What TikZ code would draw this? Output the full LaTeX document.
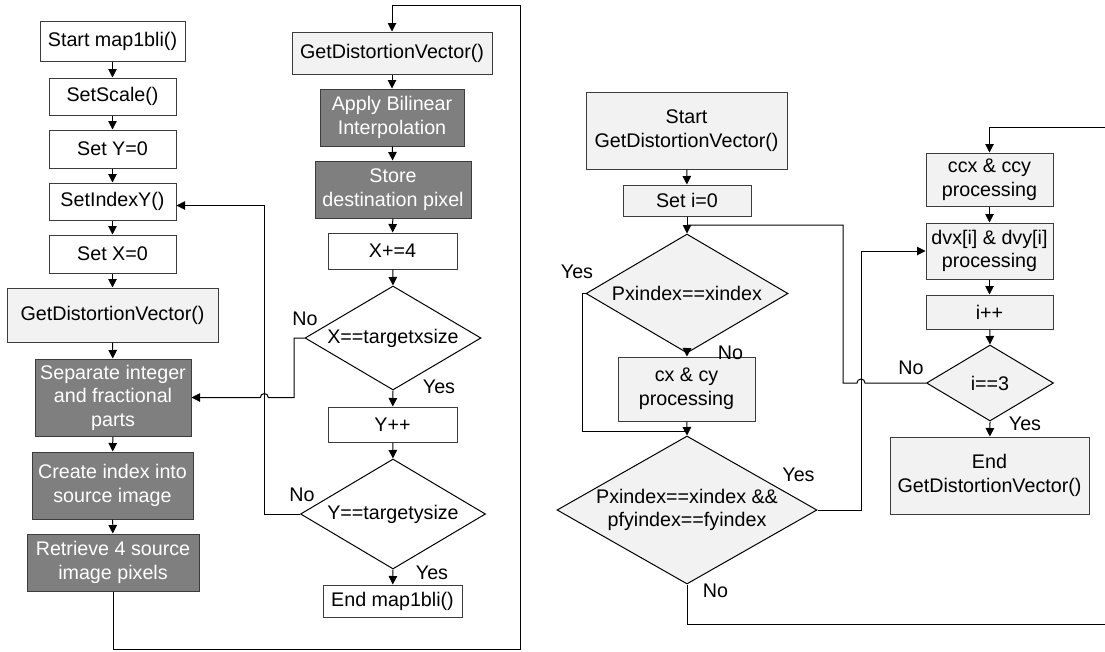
\documentclass[tikz,border=0pt]{standalone}
\usepackage{fontspec}
\setmainfont{Liberation Sans}
\usetikzlibrary{shapes.geometric,arrows.meta}
\definecolor{edgegray}{HTML}{3C3C3C}
\definecolor{lightfill}{HTML}{F2F2F2}
\definecolor{darkfill}{HTML}{7F7F7F}
\tikzset{
  base/.style={font=\fontsize{19.7}{23.6}\selectfont, inner sep=0pt, align=center},
  sz/.style 2 args={minimum width=#1pt, minimum height=#2pt},
  plainbox/.style={base, rectangle, draw=edgegray, line width=1pt, fill=white},
  lightbox/.style={base, rectangle, draw=edgegray, line width=1pt, fill=lightfill},
  darkbox/.style={base, rectangle, draw=edgegray, line width=1pt, fill=darkfill, text=white},
  decision/.style={base, diamond, draw=black, line width=1pt, aspect=1.7},
  wire/.style={draw=black, line width=1pt},
  flow/.style={wire, -{Triangle[length=8.5pt,width=8.5pt]}},
  tag/.style={base},
}
\begin{document}
\begin{tikzpicture}[x=1pt, y=-1pt]
\useasboundingbox (0,0) rectangle (1105,651);

% ---- map1bli(): left column
\node[plainbox, sz={145}{40}] (start) at (112.5,41) {Start map1bli()};
\node[plainbox, sz={127}{37}] (scale) at (112.5,96.5) {SetScale()};
\node[plainbox, sz={127}{38}] (sety) at (112.5,149) {Set Y=0};
\node[plainbox, sz={127}{37}] (idxy) at (112.5,201.5) {SetIndexY()};
\node[plainbox, sz={127}{38}] (setx) at (112.5,254) {Set X=0};
\node[lightbox, sz={211}{54}] (gdva) at (112.5,315) {GetDistortionVector()};
\node[darkbox, sz={156}{77}] (sep) at (113,397.5) {Separate integer\\and fractional\\parts};
\node[darkbox, sz={161}{67}] (cidx) at (112.5,485.5) {Create index into\\source image};
\node[darkbox, sz={172}{57}] (retr) at (113,562.5) {Retrieve 4 source\\image pixels};

% ---- map1bli(): middle column
\node[lightbox, sz={200}{42}] (gdvb) at (392,53) {GetDistortionVector()};
\node[darkbox, sz={144}{57}] (bil) at (392,117.5) {Apply Bilinear\\Interpolation};
\node[darkbox, sz={156}{57}] (store) at (393,189.5) {Store\\destination pixel};
\node[plainbox, sz={129}{36}] (xinc) at (392.5,251) {X+=4};
\node[decision, fill=white, sz={176}{104}] (dx) at (393,338) {X==targetxsize};
\node[plainbox, sz={129}{35}] (yinc) at (392.5,424.5) {Y++};
\node[decision, fill=white, sz={185}{110}] (dy) at (393,514) {Y==targetysize};
\node[plainbox, sz={139}{32}] (endm) at (392.5,601) {End map1bli()};

\node[tag] at (305,319) {No};
\node[tag] at (439,387) {Yes};
\node[tag] at (302,494.5) {No};
\node[tag] at (432,573) {Yes};

% ---- GetDistortionVector(): left column
\node[lightbox, sz={201}{77}] (sgdv) at (686.5,130.5) {Start\\GetDistortionVector()};
\node[lightbox, sz={128}{31}] (seti) at (687,200.5) {Set i=0};
\node[decision, fill=lightfill, sz={202}{119}] (dp) at (687,293.5) {Pxindex==xindex};
\node[lightbox, sz={137}{64}] (cxcy) at (686.5,389) {cx \& cy\\processing};
\node[decision, fill=lightfill, aspect=1.757, sz={260}{148}] (dpp) at (687,510) {Pxindex==xindex \&\&\\pfyindex==fyindex};

\node[tag] at (577,271.5) {Yes};
\node[tag] at (730.5,353) {No};
\node[tag] at (798.5,475) {Yes};
\node[tag] at (715.5,590.5) {No};

% ---- GetDistortionVector(): right column
\node[lightbox, sz={127}{53}] (ccx) at (989.5,179.5) {ccx \& ccy\\processing};
\node[lightbox, sz={127}{56}] (dvx) at (989.5,251) {dvx[i] \& dvy[i]\\processing};
\node[lightbox, sz={127}{34}] (iinc) at (989.5,312) {i++};
\node[decision, fill=lightfill, sz={127}{76}] (di) at (990,383) {i==3};
\node[lightbox, sz={199}{77}] (endg) at (989.5,475.5) {End\\GetDistortionVector()};

\node[tag] at (911,367.5) {No};
\node[tag] at (1025,424) {Yes};

% ---- bend and edge points of the loop wires
\coordinate (loopbr) at (520.5,649.5);
\coordinate (looptr) at (520.5,5.5);
\coordinate (nxbend) at (294,397.5);
\coordinate (nxjump) at (268.3,397.5);
\coordinate (nybend) at (264.3,205.5);
\coordinate (ypbend) at (582,431);
\coordinate (ypjoin) at (687,431);
\coordinate (ydbend) at (861,251);
\coordinate (ndout) at (1105,624);
\coordinate (ndin) at (1105,127.5);
\coordinate (nijump) at (865,383);
\coordinate (nibend) at (843,225);
\coordinate (nijoin) at (687,225);

% ---- map1bli() connectors
\draw[flow] (start) -- (scale);
\draw[flow] (scale) -- (sety);
\draw[flow] (sety) -- (idxy);
\draw[flow] (idxy) -- (setx);
\draw[flow] (setx) -- (gdva);
\draw[flow] (gdva) -- (sep);
\draw[flow] (sep) -- (cidx);
\draw[flow] (cidx) -- (retr);
\draw[flow] (retr.south) |- (loopbr) -- (looptr) -| (gdvb.north);
\draw[flow] (gdvb) -- (bil);
\draw[flow] (bil) -- (store);
\draw[flow] (store) -- (xinc);
\draw[flow] (xinc) -- (dx.north);
\draw[flow] (dx.south) -- (yinc);
\draw[flow] (yinc) -- (dy.north);
\draw[flow] (dy.south) -- (endm);
\draw[flow] (dx.west) -| (nxbend) -- (nxjump)
  arc[start angle=0, end angle=180, radius=4pt] -- (sep.east);
\draw[flow] (dy.west) -| (nybend) -- (idxy.east |- nybend);

% ---- GetDistortionVector() connectors
\draw[flow] (sgdv) -- (seti);
\draw[flow] (seti) -- (dp.north);
\draw[flow] (dp.south) -- (cxcy);
\draw[flow] (cxcy) -- (dpp.north);
\draw[wire] (dp.west) -| (ypbend) -- (ypjoin);
\draw[flow] (dpp.east) -| (ydbend) -- (dvx.west);
\draw[wire] (dpp.south) |- (ndout);
\draw[flow] (ndin) -| (ccx.north);
\draw[flow] (ccx) -- (dvx);
\draw[flow] (dvx) -- (iinc);
\draw[flow] (iinc) -- (di.north);
\draw[flow] (di.south) -- (endg);
\draw[wire] (di.west) -- (nijump)
  arc[start angle=0, end angle=180, radius=4pt] -| (nibend) -- (nijoin);
\end{tikzpicture}
\end{document}
